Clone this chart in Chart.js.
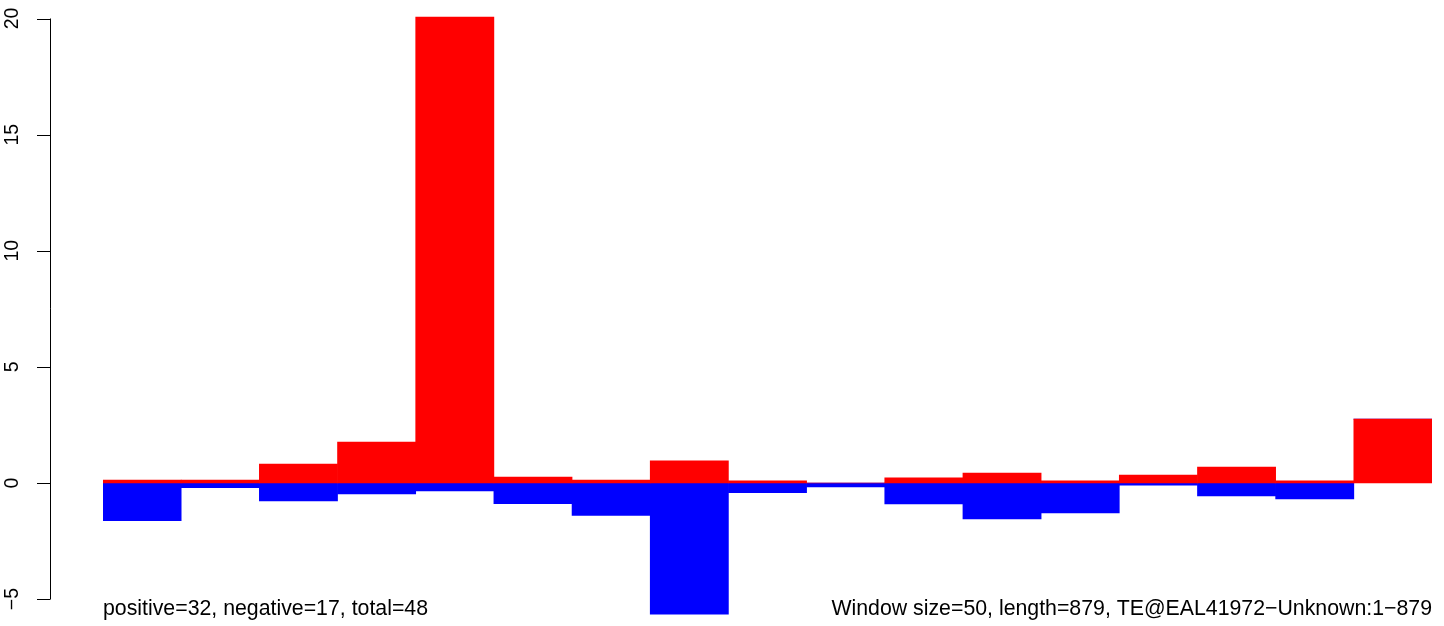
<!DOCTYPE html>
<html>
<head>
<meta charset="utf-8">
<title>Window scores</title>
<script src="https://cdn.jsdelivr.net/npm/chart.js@4/dist/chart.umd.min.js"></script>
<style>
  html, body { margin: 0; padding: 0; background: #ffffff; }
  #wrap { width: 1444px; height: 626px; position: relative; }
</style>
</head>
<body>
<div id="wrap"><canvas id="chart"></canvas></div>
<script>
// window start positions (window size 50)
const windows = [1, 51, 101, 151, 201, 251, 301, 351, 401, 451, 501, 551, 601, 651, 701, 751, 801];
// positive and negative score per window
const positiveScores = [0.13, 0.13, 0.82, 1.76, 20.06, 0.26, 0.13, 0.95, 0.09, 0, 0.22, 0.43, 0.09, 0.34, 0.69, 0.09, 2.75];
const negativeScores = [-1.62, -0.2, -0.77, -0.47, -0.34, -0.89, -1.4, -5.65, -0.42, -0.17, -0.9, -1.55, -1.29, -0.09, -0.56, -0.69, 0];
const yTicks = [-5, 0, 5, 10, 15, 20];
const leftNote = 'positive=32, negative=17, total=48';
const rightNote = 'Window size=50, length=879, TE@EAL41972\u2212Unknown:1\u2212879';

const TICK_FONT = '19.5px "Liberation Sans", Arial, Helvetica, sans-serif';
const NOTE_FONT = '21.3px "Liberation Sans", Arial, Helvetica, sans-serif';

// R-style axis: line only spans the tick range, labels rotated
const rAxis = {
  id: 'rAxis',
  afterDraw(chart) {
    const ctx = chart.ctx;
    const y = chart.scales.y;
    const axisX = 50.5;
    ctx.save();
    ctx.strokeStyle = '#000';
    ctx.lineWidth = 1;
    ctx.beginPath();
    ctx.moveTo(axisX, y.getPixelForValue(yTicks[0]));
    ctx.lineTo(axisX, y.getPixelForValue(yTicks[yTicks.length - 1]));
    yTicks.forEach(t => {
      const py = Math.round(y.getPixelForValue(t)) + 0.5;
      ctx.moveTo(37, py);
      ctx.lineTo(axisX, py);
    });
    ctx.stroke();

    ctx.fillStyle = '#000';
    ctx.font = TICK_FONT;
    ctx.textAlign = 'center';
    ctx.textBaseline = 'middle';
    yTicks.forEach(t => {
      ctx.save();
      ctx.translate(12.5, y.getPixelForValue(t));
      ctx.rotate(-Math.PI / 2);
      ctx.fillText(String(t).replace('-', '\u2212'), 0, 0);
      ctx.restore();
    });

    // notes under the bars
    const x = chart.scales.x;
    ctx.font = NOTE_FONT;
    ctx.textBaseline = 'alphabetic';
    ctx.textAlign = 'left';
    ctx.fillText(leftNote, x.left, 615);
    ctx.textAlign = 'right';
    ctx.fillText(rightNote, x.right, 615);
    ctx.restore();
  }
};

new Chart(document.getElementById('chart'), {
  type: 'bar',
  data: {
    labels: windows,
    datasets: [
      { data: positiveScores, backgroundColor: '#ff0000', borderWidth: 0 },
      { data: negativeScores, backgroundColor: '#0000ff', borderWidth: 0 }
    ]
  },
  options: {
    responsive: true,
    maintainAspectRatio: false,
    animation: false,
    events: [],
    layout: { padding: { left: 0, right: 12, top: 0, bottom: 0 } },
    datasets: { bar: { categoryPercentage: 1, barPercentage: 1 } },
    plugins: { legend: { display: false }, tooltip: { enabled: false } },
    scales: {
      x: { stacked: true, display: false },
      y: {
        stacked: true,
        min: -6.157,
        max: 20.797,
        grid: { display: false },
        border: { display: false },
        ticks: { display: false },
        afterFit(scale) { scale.width = 103; }
      }
    }
  },
  plugins: [rAxis]
});
</script>
</body>
</html>
